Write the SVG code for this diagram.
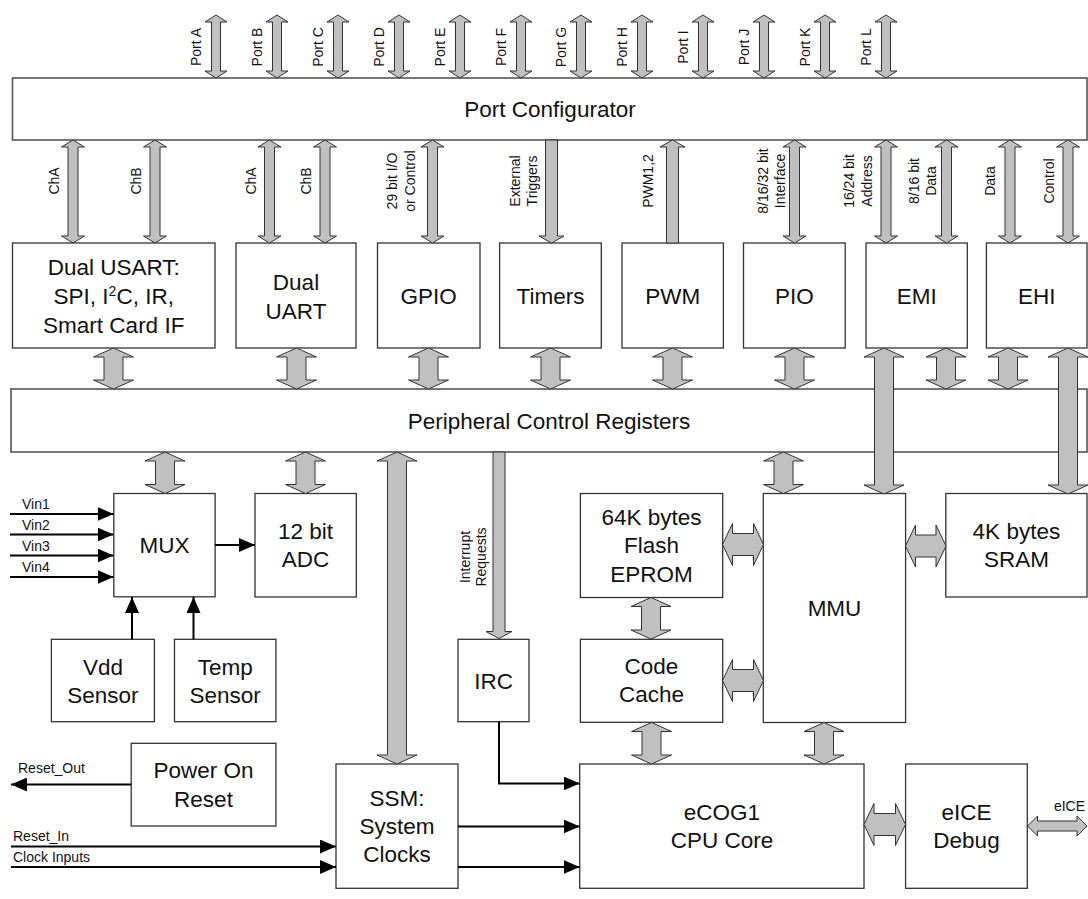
<svg xmlns="http://www.w3.org/2000/svg" xmlns:xlink="http://www.w3.org/1999/xlink" width="1088" height="899" viewBox="0 0 1088 899">
<style>
.bx{fill:#fff;stroke:#333;stroke-width:1.3}
.bar{fill:#fff;stroke:#555;stroke-width:1.6}
.ba{fill:#c0c0c0;stroke:#333;stroke-width:1}
.ln{fill:none;stroke:#000;stroke-width:2;marker-end:url(#ah)}
.t{font-family:"Liberation Sans",Arial,Helvetica,sans-serif;font-size:22.5px;fill:#111;text-anchor:middle}
.s{font-family:"Liberation Sans",Arial,Helvetica,sans-serif;font-size:14px;fill:#111;text-anchor:middle}
.l{font-family:"Liberation Sans",Arial,Helvetica,sans-serif;font-size:14px;fill:#111}
</style>
<defs>
<marker id="ah" viewBox="0 0 16 14" refX="16" refY="7" markerWidth="16" markerHeight="14" markerUnits="userSpaceOnUse" orient="auto">
<path d="M0,0 L16,7 L0,14 Z" fill="#000"/>
</marker>
<path id="pa" class="ba" d="M0,0 L11,7 L4.5,7 L4.5,56 L11,56 L0,63 L-11,56 L-4.5,56 L-4.5,7 L-11,7 Z"/>
<path id="rd" class="ba" d="M0,0 L11.5,7 L5,7 L5,96 L11.5,96 L0,103 L-11.5,96 L-5,96 L-5,7 L-11.5,7 Z"/>
</defs>
<rect width="1088" height="899" fill="#fff"/>

<g id="port-configurator"><rect class="bar" x="12.5" y="78" width="1074.5" height="62"/><text class="t" x="550" y="117">Port Configurator</text></g>
<g id="dual-usart"><rect class="bx" x="12.5" y="243" width="202.5" height="105"/><text class="t" x="113.75" y="274.5">Dual USART:</text><text class="t" x="113.75" y="303.5">SPI, I<tspan font-size="14" dy="-8">2</tspan><tspan dy="8">C, IR,</tspan></text><text class="t" x="113.75" y="332.5">Smart Card IF</text></g>
<g id="dual-uart"><rect class="bx" x="236" y="243" width="120" height="105"/><text class="t" x="296" y="289.5">Dual</text><text class="t" x="296" y="318.5">UART</text></g>
<g id="gpio"><rect class="bx" x="377.5" y="243" width="102.5" height="105"/><text class="t" x="428.75" y="304">GPIO</text></g>
<g id="timers"><rect class="bx" x="499.6" y="243" width="101.7" height="105"/><text class="t" x="550.45" y="304">Timers</text></g>
<g id="pwm"><rect class="bx" x="622" y="243" width="101.4" height="105"/><text class="t" x="672.7" y="304">PWM</text></g>
<g id="pio"><rect class="bx" x="743.5" y="243" width="101.7" height="105"/><text class="t" x="794.35" y="304">PIO</text></g>
<g id="emi"><rect class="bx" x="866" y="243" width="101.3" height="105"/><text class="t" x="916.65" y="304">EMI</text></g>
<g id="ehi"><rect class="bx" x="986.4" y="243" width="100.6" height="105"/><text class="t" x="1036.7" y="304">EHI</text></g>
<g id="peripheral-control-registers"><rect class="bar" x="11" y="389" width="1076" height="63"/><text class="t" x="549" y="428.5">Peripheral Control Registers</text></g>
<g id="mux"><rect class="bx" x="113.8" y="493.5" width="101.3" height="103.3"/><text class="t" x="164.5" y="553">MUX</text></g>
<g id="adc"><rect class="bx" x="255" y="493.5" width="101.3" height="103.5"/><text class="t" x="305.6" y="538.5">12 bit</text><text class="t" x="305.6" y="567">ADC</text></g>
<g id="flash"><rect class="bx" x="580.4" y="493.5" width="142.3" height="104"/><text class="t" x="651.5" y="524.5">64K bytes</text><text class="t" x="651.5" y="553">Flash</text><text class="t" x="651.5" y="581.5">EPROM</text></g>
<g id="mmu"><rect class="bx" x="763.3" y="493.5" width="142.3" height="229"/><text class="t" x="834.5" y="616">MMU</text></g>
<g id="sram"><rect class="bx" x="945.8" y="493.5" width="141.2" height="103.5"/><text class="t" x="1016.4" y="538.5">4K bytes</text><text class="t" x="1016.4" y="567">SRAM</text></g>
<g id="vdd-sensor"><rect class="bx" x="51.4" y="639.3" width="103" height="82.4"/><text class="t" x="102.9" y="675">Vdd</text><text class="t" x="102.9" y="703">Sensor</text></g>
<g id="temp-sensor"><rect class="bx" x="174.5" y="639.3" width="101.4" height="82.4"/><text class="t" x="225.2" y="675">Temp</text><text class="t" x="225.2" y="703">Sensor</text></g>
<g id="irc"><rect class="bx" x="458" y="639.3" width="71" height="82.4"/><text class="t" x="493.5" y="688.5">IRC</text></g>
<g id="code-cache"><rect class="bx" x="580.4" y="639.3" width="142.3" height="83"/><text class="t" x="651.5" y="674">Code</text><text class="t" x="651.5" y="702">Cache</text></g>
<g id="power-on-reset"><rect class="bx" x="131.2" y="743.3" width="144.7" height="82.7"/><text class="t" x="203.5" y="778">Power On</text><text class="t" x="203.5" y="806.5">Reset</text></g>
<g id="ssm"><rect class="bx" x="336" y="764" width="122" height="124.3"/><text class="t" x="397" y="806">SSM:</text><text class="t" x="397" y="834">System</text><text class="t" x="397" y="862">Clocks</text></g>
<g id="cpu-core"><rect class="bx" x="579.7" y="764" width="284.3" height="124.3"/><text class="t" x="722" y="819.5">eCOG1</text><text class="t" x="722" y="848">CPU Core</text></g>
<g id="eice-debug"><rect class="bx" x="905.6" y="764" width="121.7" height="124.3"/><text class="t" x="966.5" y="819.5">eICE</text><text class="t" x="966.5" y="848">Debug</text></g>

<g id="connectors">
<!-- ports -->
<use xlink:href="#pa" href="#pa" x="216" y="15"/>
<use xlink:href="#pa" href="#pa" x="277" y="15"/>
<use xlink:href="#pa" href="#pa" x="338" y="15"/>
<use xlink:href="#pa" href="#pa" x="399" y="15"/>
<use xlink:href="#pa" href="#pa" x="460" y="15"/>
<use xlink:href="#pa" href="#pa" x="521" y="15"/>
<use xlink:href="#pa" href="#pa" x="581" y="15"/>
<use xlink:href="#pa" href="#pa" x="642" y="15"/>
<use xlink:href="#pa" href="#pa" x="703" y="15"/>
<use xlink:href="#pa" href="#pa" x="764" y="15"/>
<use xlink:href="#pa" href="#pa" x="825" y="15"/>
<use xlink:href="#pa" href="#pa" x="886" y="15"/>
<!-- port configurator to peripherals -->
<use xlink:href="#rd" href="#rd" x="73" y="140"/>
<use xlink:href="#rd" href="#rd" x="155" y="140"/>
<use xlink:href="#rd" href="#rd" x="269.5" y="140"/>
<use xlink:href="#rd" href="#rd" x="325" y="140"/>
<use xlink:href="#rd" href="#rd" x="432.5" y="140"/>
<use xlink:href="#rd" href="#rd" x="794.5" y="140"/>
<use xlink:href="#rd" href="#rd" x="886" y="140"/>
<use xlink:href="#rd" href="#rd" x="946.5" y="140"/>
<use xlink:href="#rd" href="#rd" x="1010" y="140"/>
<use xlink:href="#rd" href="#rd" x="1068" y="140"/>
<polygon class="ba" points="545.5,140 557.5,140 557.5,236 564,236 551.5,243 539,236 545.5,236"/>
<polygon class="ba" points="672.5,140 685,147 678.5,147 678.5,243 666.5,243 666.5,147 660,147"/>
<!-- peripherals to PCR -->
<polygon class="ba" points="113.5,348 133.5,357 123,357 123,380 133.5,380 113.5,389 93.5,380 104,380 104,357 93.5,357"/>
<polygon class="ba" points="296.5,348 316.5,357 306,357 306,380 316.5,380 296.5,389 276.5,380 287,380 287,357 276.5,357"/>
<polygon class="ba" points="428.5,348 448.5,357 438,357 438,380 448.5,380 428.5,389 408.5,380 419,380 419,357 408.5,357"/>
<polygon class="ba" points="550.5,348 570.5,357 560,357 560,380 570.5,380 550.5,389 530.5,380 541,380 541,357 530.5,357"/>
<polygon class="ba" points="672.5,348 692.5,357 682,357 682,380 692.5,380 672.5,389 652.5,380 663,380 663,357 652.5,357"/>
<polygon class="ba" points="794.5,348 814.5,357 804,357 804,380 814.5,380 794.5,389 774.5,380 785,380 785,357 774.5,357"/>
<polygon class="ba" points="946,348 966,357 955.5,357 955.5,380 966,380 946,389 926,380 936.5,380 936.5,357 926,357"/>
<polygon class="ba" points="1008,348 1028,357 1017.5,357 1017.5,380 1028,380 1008,389 988,380 998.5,380 998.5,357 988,357"/>
<polygon class="ba" points="884,348 904,357 893.5,357 893.5,485 904,485 884,494 864,485 874.5,485 874.5,357 864,357"/>
<polygon class="ba" points="1068,348 1088,357 1077.5,357 1077.5,485 1088,485 1068,494 1048,485 1058.5,485 1058.5,357 1048,357"/>
<!-- PCR to lower blocks -->
<polygon class="ba" points="165,452 185,461 174.5,461 174.5,484.5 185,484.5 165,493.5 145,484.5 155.5,484.5 155.5,461 145,461"/>
<polygon class="ba" points="305.5,452 325.5,461 315,461 315,484.5 325.5,484.5 305.5,493.5 285.5,484.5 296,484.5 296,461 285.5,461"/>
<polygon class="ba" points="783.5,452 803.5,461 793,461 793,484.5 803.5,484.5 783.5,493.5 763.5,484.5 774,484.5 774,461 763.5,461"/>
<polygon class="ba" points="397,452 417,461 406.5,461 406.5,755 417,755 397,764 377,755 387.5,755 387.5,461 377,461"/>
<polygon class="ba" points="493,452 505,452 505,631.5 512,631.5 499,638.5 486,631.5 493,631.5"/>
<!-- memory / cpu -->
<polygon class="ba" points="651,597.5 671,606.5 660.5,606.5 660.5,630 671,630 651,639 631,630 641.5,630 641.5,606.5 631,606.5"/>
<polygon class="ba" points="651.5,722.5 671.5,731.5 661,731.5 661,755 671.5,755 651.5,764 631.5,755 642,755 642,731.5 631.5,731.5"/>
<polygon class="ba" points="824,722.5 844,731.5 833.5,731.5 833.5,755 844,755 824,764 804,755 814.5,755 814.5,731.5 804,731.5"/>
<polygon class="ba" points="722.5,544.5 732.5,523.5 732.5,533.5 753.5,533.5 753.5,523.5 763.5,544.5 753.5,565.5 753.5,555.5 732.5,555.5 732.5,565.5"/>
<polygon class="ba" points="722.5,680.5 732.5,659.5 732.5,669.5 753.5,669.5 753.5,659.5 763.5,680.5 753.5,701.5 753.5,691.5 732.5,691.5 732.5,701.5"/>
<polygon class="ba" points="905.5,546 915.5,525 915.5,535 936,535 936,525 946,546 936,567 936,557 915.5,557 915.5,567"/>
<polygon class="ba" points="864,824.5 874,803.5 874,813.5 895.5,813.5 895.5,803.5 905.5,824.5 895.5,845.5 895.5,835.5 874,835.5 874,845.5"/>
<polygon class="ba" points="1027.5,826 1037.5,816 1037.5,821 1077,821 1077,816 1087,826 1077,836 1077,831 1037.5,831 1037.5,836"/>
<!-- signal lines -->
<line class="ln" x1="10" y1="514" x2="113.5" y2="514"/>
<line class="ln" x1="10" y1="534.5" x2="113.5" y2="534.5"/>
<line class="ln" x1="10" y1="555.5" x2="113.5" y2="555.5"/>
<line class="ln" x1="10" y1="577" x2="113.5" y2="577"/>
<line class="ln" x1="215" y1="545" x2="255" y2="545"/>
<line class="ln" x1="132" y1="639.3" x2="132" y2="597"/>
<line class="ln" x1="193.5" y1="639.3" x2="193.5" y2="597"/>
<line class="ln" x1="131.2" y1="784.5" x2="11" y2="784.5"/>
<line class="ln" x1="11" y1="846.5" x2="336" y2="846.5"/>
<line class="ln" x1="11" y1="867" x2="336" y2="867"/>
<path class="ln" d="M499,721.7 V783.5 H579.7"/>
<line class="ln" x1="458" y1="826.5" x2="579.7" y2="826.5"/>
<line class="ln" x1="458" y1="867" x2="579.7" y2="867"/>
</g>

<g id="labels">
<text class="s" transform="translate(200.5,47) rotate(-90)">Port A</text>
<text class="s" transform="translate(261.5,47) rotate(-90)">Port B</text>
<text class="s" transform="translate(322.5,47) rotate(-90)">Port C</text>
<text class="s" transform="translate(383.5,47) rotate(-90)">Port D</text>
<text class="s" transform="translate(444.5,47) rotate(-90)">Port E</text>
<text class="s" transform="translate(505.5,47) rotate(-90)">Port F</text>
<text class="s" transform="translate(565.5,47) rotate(-90)">Port G</text>
<text class="s" transform="translate(626.5,47) rotate(-90)">Port H</text>
<text class="s" transform="translate(687.5,47) rotate(-90)">Port I</text>
<text class="s" transform="translate(748.5,47) rotate(-90)">Port J</text>
<text class="s" transform="translate(809.5,47) rotate(-90)">Port K</text>
<text class="s" transform="translate(870.5,47) rotate(-90)">Port L</text>
<text class="s" transform="translate(59,181) rotate(-90)">ChA</text>
<text class="s" transform="translate(141,181) rotate(-90)">ChB</text>
<text class="s" transform="translate(255.5,181) rotate(-90)">ChA</text>
<text class="s" transform="translate(311,181) rotate(-90)">ChB</text>
<text class="s" transform="translate(397,181) rotate(-90)">29 bit I/O</text>
<text class="s" transform="translate(414.5,181) rotate(-90)">or Control</text>
<text class="s" transform="translate(520,181) rotate(-90)">External</text>
<text class="s" transform="translate(536.5,181) rotate(-90)">Triggers</text>
<text class="s" transform="translate(652.5,181) rotate(-90)">PWM1,2</text>
<text class="s" transform="translate(767.5,181) rotate(-90)">8/16/32 bit</text>
<text class="s" transform="translate(785,181) rotate(-90)">Interface</text>
<text class="s" transform="translate(854,181) rotate(-90)">16/24 bit</text>
<text class="s" transform="translate(871.5,181) rotate(-90)">Address</text>
<text class="s" transform="translate(918.5,181) rotate(-90)">8/16 bit</text>
<text class="s" transform="translate(936,181) rotate(-90)">Data</text>
<text class="s" transform="translate(995,181) rotate(-90)">Data</text>
<text class="s" transform="translate(1054,181) rotate(-90)">Control</text>
<text class="s" transform="translate(470,557) rotate(-90)">Interrupt</text>
<text class="s" transform="translate(486,557) rotate(-90)">Requests</text>
<text class="l" x="22" y="509">Vin1</text>
<text class="l" x="22" y="529.5">Vin2</text>
<text class="l" x="22" y="550.5">Vin3</text>
<text class="l" x="22" y="572">Vin4</text>
<text class="l" x="18" y="773">Reset_Out</text>
<text class="l" x="13" y="841">Reset_In</text>
<text class="l" x="13" y="861.5">Clock Inputs</text>
<text class="l" x="1085" y="811" font-size="13" text-anchor="end">eICE</text>
</g>
</svg>
